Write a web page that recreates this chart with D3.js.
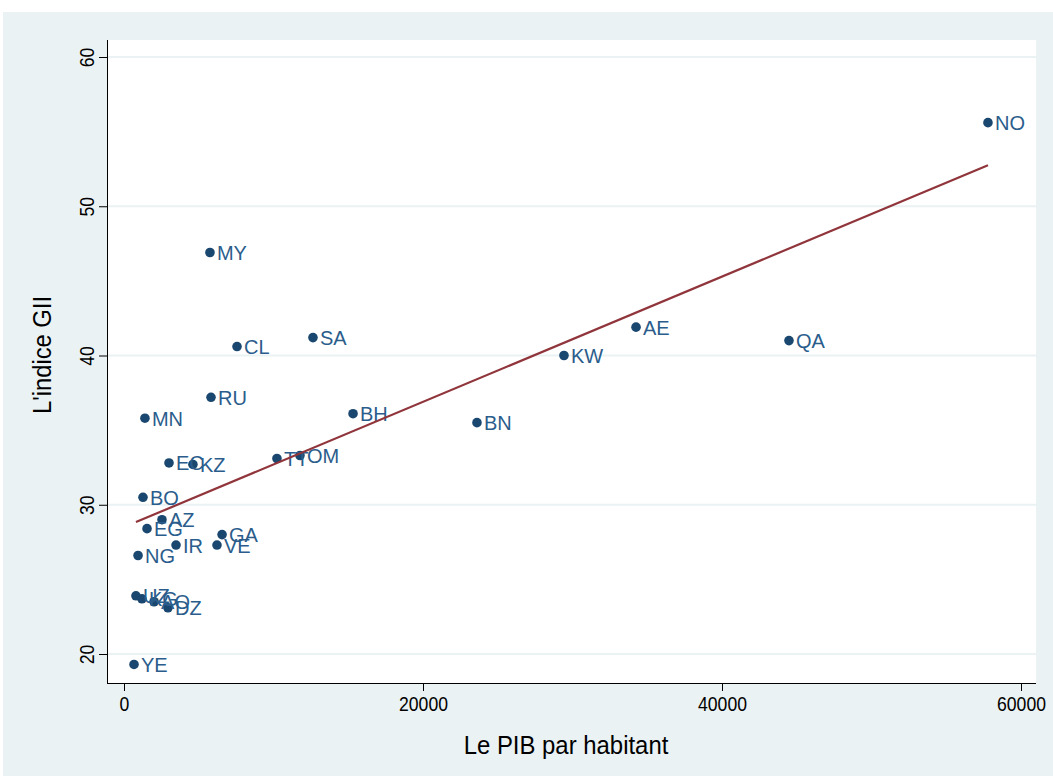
<!DOCTYPE html>
<html>
<head>
<meta charset="utf-8">
<script src="https://cdn.jsdelivr.net/npm/d3@7"></script>
<style>
  body { margin: 0; background: #fff; }
  svg { display: block; font-family: "Liberation Sans", Arial, sans-serif; }
</style>
</head>
<body>
<svg id="chart"></svg>
<script>
// Size of the page
const w = 1053;
const h = 776;

// Country codes, GDP per capita and GII index
const codes = ["NO", "MY", "CL", "SA", "RU", "MN", "BH", "BN", "KW", "AE", "QA",
  "TT", "OM", "EC", "KZ", "BO", "AZ", "EG", "GA", "IR", "VE", "NG",
  "UZ", "KG", "AO", "DZ", "YE"];
const gdp = [57790, 5750, 7560, 12640, 5820, 1400, 15320, 23610, 29430, 34250, 44480,
  10230, 11770, 3010, 4610, 1270, 2540, 1540, 6560, 3480, 6220, 940,
  800, 1200, 2010, 2940, 670];
const gii = [55.6, 46.9, 40.6, 41.2, 37.2, 35.8, 36.1, 35.5, 40.0, 41.9, 41.0,
  33.1, 33.3, 32.8, 32.7, 30.5, 29.0, 28.4, 28.0, 27.3, 27.3, 26.6,
  23.9, 23.7, 23.5, 23.1, 19.3];

// Fitted line, two ends
const fitX = [800, 57790];
const fitY = [28.84, 52.75];

// Ticks
const xTicks = [0, 20000, 40000, 60000];
const yTicks = [20, 30, 40, 50, 60];

const points = codes.map((c, i) => ({ code: c, x: gdp[i], y: gii[i] }));

// Plot area edges
const pLeft = 107, pRight = 1036, pTop = 40, pBottom = 683;

const x = d3.scaleLinear().domain([0, 60000]).range([124, 1021]);
const y = d3.scaleLinear().domain([20, 60]).range([654, 57]);

const svg = d3.select("#chart").attr("width", w).attr("height", h);

// outer background
svg.append("rect").attr("x", 3).attr("y", 12).attr("width", w - 3).attr("height", h - 12)
  .attr("fill", "#eaf2f3");
// plot area
svg.append("rect").attr("x", pLeft).attr("y", pTop).attr("width", pRight - pLeft).attr("height", pBottom - pTop)
  .attr("fill", "#ffffff");

// horizontal grid lines
svg.append("g").selectAll("line").data(yTicks).join("line")
  .attr("x1", pLeft).attr("x2", pRight)
  .attr("y1", d => y(d)).attr("y2", d => y(d))
  .attr("stroke", "#eaf2f3").attr("stroke-width", 2);

// y axis
const yAxis = svg.append("g").attr("transform", `translate(${pLeft},0)`)
  .call(d3.axisLeft(y).tickValues(yTicks).tickSize(8).tickPadding(6).tickFormat(d3.format("d")));
yAxis.select(".domain").attr("d", `M0.5,${pTop}V${pBottom}`).attr("stroke", "#000");
yAxis.selectAll(".tick line").attr("stroke", "#000");
yAxis.selectAll(".tick text")
  .attr("x", null).attr("dy", null)
  .attr("transform", "translate(-13,0) rotate(-90) scale(0.88,1)")
  .attr("text-anchor", "middle")
  .attr("fill", "#000")
  .style("font-size", "20px").style("font-family", "'Liberation Sans', Arial, sans-serif");

// x axis
const xAxis = svg.append("g").attr("transform", `translate(0,${pBottom})`)
  .call(d3.axisBottom(x).tickValues(xTicks).tickSize(8).tickPadding(6).tickFormat(d3.format("d")));
xAxis.select(".domain").attr("d", `M${pLeft},0.5H${pRight}`).attr("stroke", "#000");
xAxis.selectAll(".tick line").attr("stroke", "#000");
xAxis.selectAll(".tick text")
  .attr("transform", "scale(0.88,1)")
  .attr("fill", "#000")
  .style("font-size", "20px").style("font-family", "'Liberation Sans', Arial, sans-serif");

// axis titles
svg.append("text").attr("x", 566).attr("y", 754).attr("text-anchor", "middle")
  .attr("transform", "translate(566,0) scale(0.92,1) translate(-566,0)")
  .style("font-size", "26px").attr("fill", "#000").text("Le PIB par habitant");
svg.append("text").attr("transform", "translate(51,355) rotate(-90) scale(0.95,1)").attr("text-anchor", "middle")
  .style("font-size", "25px").attr("fill", "#000").text("L'indice GII");

// markers
svg.append("g").selectAll("circle").data(points).join("circle")
  .attr("cx", d => x(d.x)).attr("cy", d => y(d.y)).attr("r", 4.8)
  .attr("fill", "#1a476f");

// labels
svg.append("g").selectAll("text").data(points).join("text")
  .attr("x", d => x(d.x) + 7).attr("y", d => y(d.y) + 7.5)
  .style("font-size", "20px").attr("fill", "#2b5d8c")
  .text(d => d.code);

// fitted line
svg.append("line")
  .attr("x1", x(fitX[0])).attr("y1", y(fitY[0]))
  .attr("x2", x(fitX[1])).attr("y2", y(fitY[1]))
  .attr("stroke", "#90353b").attr("stroke-width", 2.2);
</script>
</body>
</html>
